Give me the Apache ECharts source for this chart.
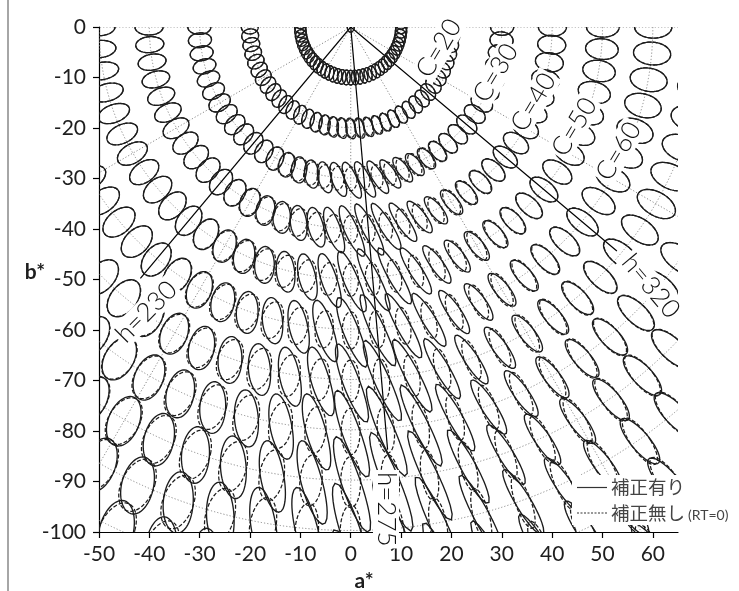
<!DOCTYPE html>
<html>
<head>
<meta charset="utf-8">
<script src="https://cdn.jsdelivr.net/npm/echarts@6/dist/echarts.min.js"></script>
<style>
html,body{margin:0;padding:0;background:#fff;}
#chart{width:739px;height:591px;}
</style>
</head>
<body>
<div id="chart"></div>
<script>
// ---- chart data ----
// ellipse centres: chroma C*ab rings and hue angles h_ab (degrees)
const chromaRings = [0, 10, 20, 30, 40, 50, 60, 70, 80, 90, 100, 110, 120, 130];
const hueAngles = [170, 175, 180, 185, 190, 195, 200, 205, 210, 215, 220, 225, 230, 235,
  240, 245, 250, 255, 260, 265, 270, 275, 280, 285, 290, 295, 300, 305, 310, 315,
  320, 325, 330, 335, 340, 345, 350, 355, 360, 365, 370];
// colour-difference threshold of every ellipse (ΔE00)
const deltaE = 1;
// reference grid: chroma circles and hue rays
const gridChroma = [10, 20, 30, 40, 50, 60, 70, 80, 90, 100, 110, 120, 130];
const gridHues = [180, 210, 240, 270, 300, 330, 360];
const keyHues = [230, 275, 320];
const keyHueLabels = ['h=230', 'h=275', 'h=320'];
const ringLabelChroma = [20, 30, 40, 50, 60];
const ringLabels = ['C=20', 'C=30', 'C=40', 'C=50', 'C=60'];
// axis ticks
const xTicks = [-50, -40, -30, -20, -10, 0, 10, 20, 30, 40, 50, 60];
const yTicks = [-100, -90, -80, -70, -60, -50, -40, -30, -20, -10, 0];
const seriesNames = ['補正有り', '補正無し'];
const legendNote = '(RT=0)';

// ---- layout / style ----
// solid hue rays: length of the ray, label anchor [a*, b*] and text rotation
const keyHueLayout = {
  230: {reach: 65, at: [-40.6, -56.4], rot: 45},
  275: {reach: 84, at: [7.0, -95.5], rot: -90},
  320: {reach: 69, at: [59.6, -51.3], rot: -50}
};
// ring labels: anchor [a*, b*]
const ringLabelLayout = {20: [17.5, -4.2], 30: [28.8, -9.1], 40: [36.3, -14.9], 50: [44.4, -19.8], 60: [53.2, -24.6]};
const labelFont = 'Lato';
const INK = '#1c1c1c';

// ---- CIEDE2000 colour difference (equal lightness) ----
const DEG = Math.PI / 180;
const K7 = Math.pow(25, 7);
function de2000(a1, b1, a2, b2, withRT) {
  const C1 = Math.hypot(a1, b1), C2 = Math.hypot(a2, b2);
  const Cb = (C1 + C2) / 2, Cb7 = Math.pow(Cb, 7);
  const G = 0.5 * (1 - Math.sqrt(Cb7 / (Cb7 + K7)));
  const a1p = (1 + G) * a1, a2p = (1 + G) * a2;
  const C1p = Math.hypot(a1p, b1), C2p = Math.hypot(a2p, b2);
  let h1p = C1p === 0 ? 0 : Math.atan2(b1, a1p) / DEG; if (h1p < 0) h1p += 360;
  let h2p = C2p === 0 ? 0 : Math.atan2(b2, a2p) / DEG; if (h2p < 0) h2p += 360;
  const dCp = C2p - C1p;
  let dhp = 0;
  if (C1p * C2p !== 0) {
    dhp = h2p - h1p;
    if (dhp > 180) dhp -= 360; else if (dhp < -180) dhp += 360;
  }
  const dHp = 2 * Math.sqrt(C1p * C2p) * Math.sin(dhp * DEG / 2);
  const Cbp = (C1p + C2p) / 2;
  let hbp;
  if (C1p * C2p === 0) hbp = h1p + h2p;
  else if (Math.abs(h1p - h2p) <= 180) hbp = (h1p + h2p) / 2;
  else hbp = (h1p + h2p < 360) ? (h1p + h2p + 360) / 2 : (h1p + h2p - 360) / 2;
  const T = 1 - 0.17 * Math.cos((hbp - 30) * DEG) + 0.24 * Math.cos(2 * hbp * DEG)
    + 0.32 * Math.cos((3 * hbp + 6) * DEG) - 0.20 * Math.cos((4 * hbp - 63) * DEG);
  const SC = 1 + 0.045 * Cbp, SH = 1 + 0.015 * Cbp * T;
  let RT = 0;
  if (withRT) {
    const dTheta = 30 * Math.exp(-Math.pow((hbp - 275) / 25, 2));
    const Cbp7 = Math.pow(Cbp, 7);
    const RC = 2 * Math.sqrt(Cbp7 / (Cbp7 + K7));
    RT = -Math.sin(2 * dTheta * DEG) * RC;
  }
  const u = dCp / SC, v = dHp / SH;
  return Math.sqrt(Math.max(0, u * u + v * v + RT * u * v));
}

// contour ΔE00 = deltaE around a centre, traced along rays
const STEPS = 90;
function contour(a0, b0, withRT) {
  const pts = [];
  for (let k = 0; k < STEPS; k++) {
    const t = 2 * Math.PI * k / STEPS, dx = Math.cos(t), dy = Math.sin(t);
    let lo = 0, hi = 0.5;
    while (de2000(a0, b0, a0 + hi * dx, b0 + hi * dy, withRT) < deltaE && hi < 200) { lo = hi; hi *= 2; }
    for (let i = 0; i < 22; i++) {
      const m = (lo + hi) / 2;
      if (de2000(a0, b0, a0 + m * dx, b0 + m * dy, withRT) < deltaE) lo = m; else hi = m;
    }
    const r = (lo + hi) / 2;
    pts.push([a0 + r * dx, b0 + r * dy]);
  }
  return pts;
}

// centres of the ellipses
const centres = [];
chromaRings.forEach(function (C) {
  const hs = C === 0 ? [0] : hueAngles;
  hs.forEach(function (h) {
    const a = C * Math.cos(h * DEG), b = C * Math.sin(h * DEG);
    if (b < 8 && b > -118 && a > -66 && a < 82) centres.push([a, b]);
  });
});
const shapesRT = centres.map(function (c) { return contour(c[0], c[1], true); });
const shapesNoRT = centres.map(function (c) { return contour(c[0], c[1], false); });

function ellipseSeries(name, shapes, dashed, z) {
  return {
    name: name, type: 'custom', coordinateSystem: 'cartesian2d', clip: true, z: z, silent: true,
    data: centres,
    renderItem: function (params, api) {
      const pts = shapes[params.dataIndex].map(function (p) { return api.coord(p); });
      return {
        type: 'polygon', shape: {points: pts},
        style: {fill: null, stroke: INK, lineWidth: dashed ? 1.25 : 1.35, lineDash: dashed ? [4, 2] : null}
      };
    }
  };
}

function labelText(text, p, rot) {
  return {type: 'text', x: p[0], y: p[1], rotation: rot * DEG,
    style: {text: text, fontSize: 26, fontFamily: labelFont, fontWeight: 300,
      fill: '#111', align: 'center', verticalAlign: 'middle', backgroundColor: '#fff', padding: [0, 2]}};
}

const option = {
  animation: false,
  backgroundColor: '#fff',
  grid: {left: 99, top: 27, right: 61, bottom: 59},
  xAxis: {
    type: 'value', min: -50, max: 65,
    axisLine: {onZero: false, lineStyle: {color: '#000', width: 1.2}},
    axisTick: {customValues: xTicks, length: 6, lineStyle: {color: '#000', width: 1.2}},
    axisLabel: {customValues: xTicks, margin: 12, fontSize: 21, fontFamily: 'Lato', color: '#1e1e1e'},
    splitLine: {show: false}
  },
  yAxis: {
    type: 'value', min: -100, max: 0, interval: 10,
    axisLine: {onZero: false, lineStyle: {color: '#000', width: 1.2}},
    axisTick: {length: 6, lineStyle: {color: '#000', width: 1.2}},
    axisLabel: {margin: 13, fontSize: 21, fontFamily: 'Lato', color: '#1e1e1e'},
    splitLine: {show: false}
  },
  series: [
    // chroma circles
    {
      type: 'custom', coordinateSystem: 'cartesian2d', clip: true, z: 1, silent: true,
      data: gridChroma.map(function (c) { return [0, 0, c]; }),
      renderItem: function (params, api) {
        const o = api.coord([0, 0]);
        const r = api.size([api.value(2), 0])[0];
        return {type: 'circle', shape: {cx: o[0], cy: o[1], r: r},
          style: {fill: null, stroke: '#8a8a8a', lineWidth: 1, lineDash: [1.2, 2]}};
      }
    },
    // dotted hue rays
    {
      type: 'custom', coordinateSystem: 'cartesian2d', clip: true, z: 1, silent: true,
      data: gridHues.map(function (h) { return [0, 0, h]; }),
      renderItem: function (params, api) {
        const h = api.value(2) * DEG;
        const o = api.coord([0, 0]), e = api.coord([200 * Math.cos(h), 200 * Math.sin(h)]);
        return {type: 'line', shape: {x1: o[0], y1: o[1], x2: e[0], y2: e[1]},
          style: {stroke: '#8a8a8a', lineWidth: 1, lineDash: [1.2, 2]}};
      }
    },
    // solid key hue rays
    {
      type: 'custom', coordinateSystem: 'cartesian2d', clip: true, z: 2, silent: true,
      data: keyHues.map(function (h) { return [0, 0, h]; }),
      renderItem: function (params, api) {
        const hv = api.value(2), h = hv * DEG, L = keyHueLayout[hv].reach;
        const o = api.coord([0, 0]), e = api.coord([L * Math.cos(h), L * Math.sin(h)]);
        return {type: 'line', shape: {x1: o[0], y1: o[1], x2: e[0], y2: e[1]},
          style: {stroke: '#000', lineWidth: 1.2}};
      }
    },
    ellipseSeries(seriesNames[1], shapesNoRT, true, 3),
    ellipseSeries(seriesNames[0], shapesRT, false, 4),
    // ring labels
    {
      type: 'custom', coordinateSystem: 'cartesian2d', clip: false, z: 6, silent: true,
      data: ringLabelChroma.map(function (c, i) { return [c, i]; }),
      renderItem: function (params, api) {
        const p = api.coord(ringLabelLayout[api.value(0)]);
        return labelText(ringLabels[api.value(1)], p, 59);
      }
    },
    // hue labels
    {
      type: 'custom', coordinateSystem: 'cartesian2d', clip: false, z: 6, silent: true,
      data: keyHues.map(function (h, i) { return [h, i]; }),
      renderItem: function (params, api) {
        const lay = keyHueLayout[api.value(0)];
        return labelText(keyHueLabels[api.value(1)], api.coord(lay.at), lay.rot);
      }
    }
  ],
  graphic: [
    // frame edge on the left
    {type: 'line', shape: {x1: 8, y1: 0, x2: 8, y2: 591}, style: {stroke: '#888', lineWidth: 1.5}, z: 10},
    // axis titles
    {type: 'text', x: 35, y: 272, style: {text: 'b*', fontSize: 21, fontWeight: 'bold', fontFamily: 'Lato', fill: '#1e1e1e', align: 'center', verticalAlign: 'middle'}, z: 10},
    {type: 'text', x: 364, y: 581, style: {text: 'a*', fontSize: 21, fontWeight: 'bold', fontFamily: 'Lato', fill: '#1e1e1e', align: 'center', verticalAlign: 'middle'}, z: 10},
    // legend
    {type: 'rect', shape: {x: 572, y: 475, width: 167, height: 50}, style: {fill: '#fff'}, z: 20},
    {type: 'line', shape: {x1: 577, y1: 487.5, x2: 607, y2: 487.5}, style: {stroke: '#333', lineWidth: 1.2}, z: 21},
    {type: 'text', x: 611, y: 487, style: {text: seriesNames[0], fontSize: 18.5, fontFamily: 'Noto Sans CJK JP', fill: '#444', verticalAlign: 'middle'}, z: 21},
    {type: 'line', shape: {x1: 577, y1: 513, x2: 607, y2: 513}, style: {stroke: '#333', lineWidth: 1.1, lineDash: [2, 1.5]}, z: 21},
    {type: 'text', x: 611, y: 513, style: {text: seriesNames[1], fontSize: 18.5, fontFamily: 'Noto Sans CJK JP', fill: '#444', verticalAlign: 'middle'}, z: 21},
    {type: 'text', x: 688, y: 515, style: {text: legendNote, fontSize: 14, fontFamily: 'Lato', fill: '#444', verticalAlign: 'middle'}, z: 21}
  ]
};

const chart = echarts.init(document.getElementById('chart'), null, {renderer: 'canvas'});
chart.setOption(option);
</script>
</body>
</html>
